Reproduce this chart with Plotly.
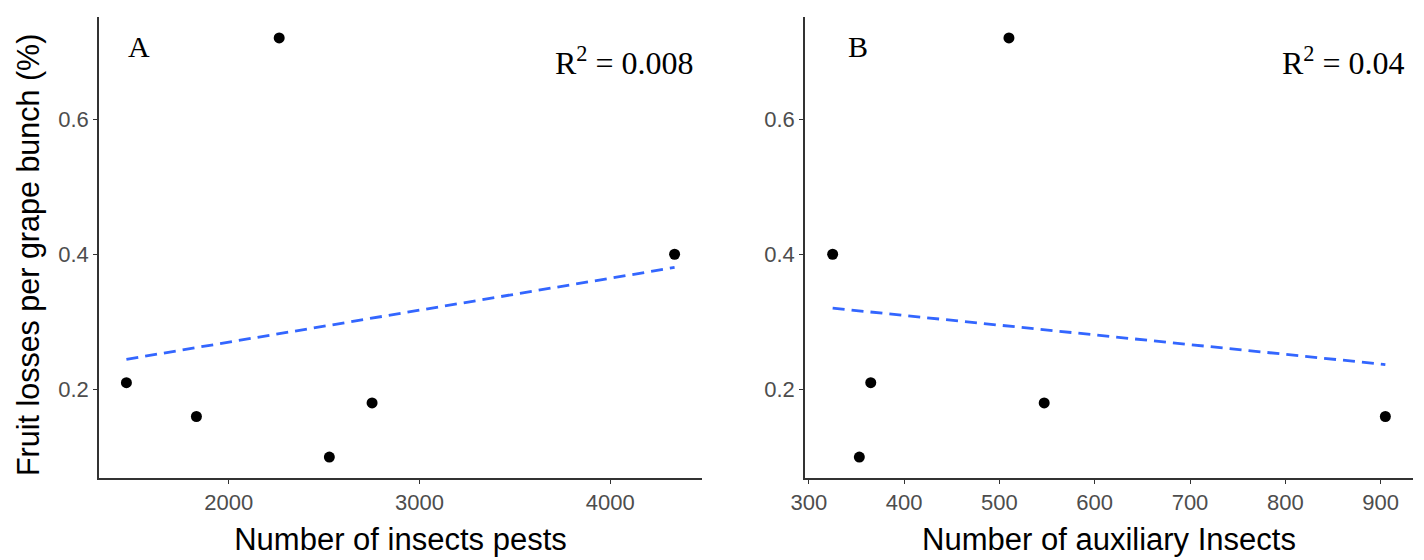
import numpy as np
import plotly.graph_objects as go

# Data
pests = [1463, 1830, 2264, 2527, 2751, 4337]
auxiliary = [365, 905, 510, 353, 547, 325]
losses = [0.21, 0.16, 0.72, 0.10, 0.18, 0.40]

y_ticks = [0.2, 0.4, 0.6]
y_labels = ["0.2", "0.4", "0.6"]
xa_ticks = [2000, 3000, 4000]
xb_ticks = [300, 400, 500, 600, 700, 800, 900]

def fit(x, y):
    x = np.asarray(x, float)
    y = np.asarray(y, float)
    b, a = np.polyfit(x, y, 1)
    xs = np.array([x.min(), x.max()])
    return xs, a + b * xs

def rng(v, f=0.05):
    lo, hi = min(v), max(v)
    d = (hi - lo) * f
    return [lo - d, hi + d]

fig = go.Figure()
for x, xa, ya in [(pests, "x", "y"), (auxiliary, "x2", "y2")]:
    fig.add_trace(go.Scatter(x=x, y=losses, mode="markers", xaxis=xa, yaxis=ya,
                             marker=dict(color="black", size=11), showlegend=False))
    fx, fy = fit(x, losses)
    fig.add_trace(go.Scatter(x=fx, y=fy, mode="lines", xaxis=xa, yaxis=ya,
                             line=dict(color="#3366FF", width=2.8, dash="12px,7px"),
                             showlegend=False))

tickfont = dict(family="Liberation Sans, Arial", size=22, color="#4d4d4d")
xtitlefont = dict(family="Liberation Sans, Arial", size=31, color="black")
ytitlefont = dict(family="Liberation Sans, Arial", size=30.5, color="black")
axis_common = dict(showgrid=False, zeroline=False, showline=True, linecolor="#333333",
                   linewidth=1.5, ticks="outside", ticklen=4, tickcolor="#333333",
                   tickwidth=1.2, tickfont=tickfont, mirror=False, automargin=False)

fig.update_layout(
    width=1424, height=560,
    margin=dict(l=99, r=11, t=17, b=82),
    paper_bgcolor="white", plot_bgcolor="white",
    xaxis=dict(domain=[0, 0.4589], range=rng(pests), tickvals=xa_ticks,
               title=dict(text="Number of insects pests", font=xtitlefont, standoff=14),
               **axis_common),
    yaxis=dict(range=rng(losses), tickvals=y_ticks, ticktext=y_labels, **axis_common),
    xaxis2=dict(domain=[0.5373, 1], range=rng(auxiliary), tickvals=xb_ticks, anchor="y2",
                title=dict(text="Number of auxiliary Insects", font=xtitlefont, standoff=14),
                **axis_common),
    yaxis2=dict(range=rng(losses), tickvals=y_ticks, ticktext=y_labels,
                anchor="x2", **axis_common),
)

# y-axis title (placed as rotated text so its position matches the reference)
fig.add_annotation(text="Fruit losses per grape bunch (%)", xref="paper", yref="paper",
                   x=-0.054, y=0.4837, xanchor="center", yanchor="middle",
                   textangle=-90, showarrow=False, font=ytitlefont)

serif = dict(family="Liberation Serif, Times New Roman", size=30, color="black")
rfont = dict(family="Liberation Serif, Times New Roman", size=32, color="black")
fig.add_annotation(text="A", xref="x domain", yref="y domain", x=0.045, y=0.935,
                   xanchor="left", yanchor="middle", showarrow=False, font=serif)
fig.add_annotation(text="R<sup>2</sup> = 0.008", xref="x domain", yref="y domain",
                   x=0.99, y=0.905, xanchor="right", yanchor="middle", showarrow=False,
                   font=rfont)
fig.add_annotation(text="B", xref="x2 domain", yref="y2 domain", x=0.068, y=0.935,
                   xanchor="left", yanchor="middle", showarrow=False, font=serif)
fig.add_annotation(text="R<sup>2</sup> = 0.04", xref="x2 domain", yref="y2 domain",
                   x=0.99, y=0.905, xanchor="right", yanchor="middle", showarrow=False,
                   font=rfont)

fig.write_html("out.html")
